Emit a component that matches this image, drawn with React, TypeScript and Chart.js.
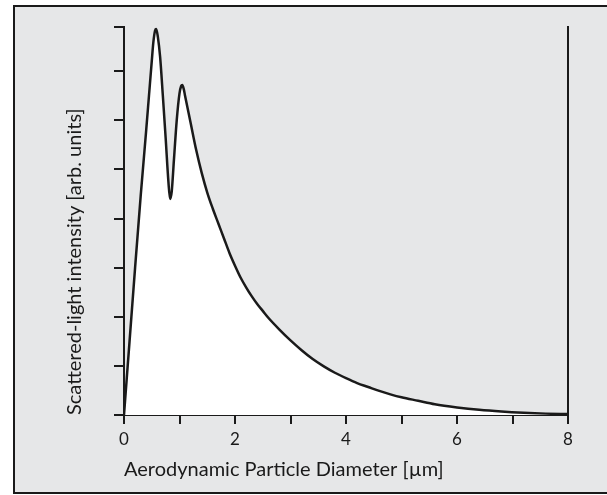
import React, { useEffect, useRef } from "react";
import { Chart, registerables } from "chart.js";

Chart.register(...registerables);

// Aerodynamic particle diameter [µm]
const diameters = [
  0, 0.1, 0.2, 0.3, 0.4, 0.45, 0.5, 0.53, 0.56, 0.58, 0.61, 0.65, 0.7, 0.75,
  0.8, 0.83, 0.86, 0.9, 0.95, 1.0, 1.03, 1.05, 1.08, 1.1, 1.2, 1.3, 1.4, 1.5,
  1.6, 1.7, 1.8, 1.9, 2.0, 2.1, 2.2, 2.3, 2.4, 2.5, 2.6, 2.8, 3.0, 3.2, 3.4,
  3.6, 3.8, 4.0, 4.2, 4.4, 4.6, 4.8, 5.0, 5.3, 5.6, 6.0, 6.4, 6.8, 7.2, 7.6,
  8.0,
];
// Scattered-light intensity [arb. units]
const intensity = [
  0, 1.5, 3.0, 4.45, 5.8, 6.5, 7.2, 7.6, 7.83, 7.86, 7.7, 7.3, 6.5, 5.65,
  4.75, 4.4, 4.55, 5.2, 6.0, 6.55, 6.7, 6.72, 6.62, 6.5, 5.95, 5.4, 4.93,
  4.53, 4.2, 3.9, 3.6, 3.3, 3.04, 2.8, 2.6, 2.42, 2.26, 2.12, 1.98, 1.74,
  1.52, 1.32, 1.14, 0.99, 0.86, 0.75, 0.65, 0.57, 0.49, 0.42, 0.36, 0.29,
  0.22, 0.155, 0.105, 0.07, 0.045, 0.028, 0.018,
];

const xTickValues = [0, 1, 2, 3, 4, 5, 6, 7, 8];
const xTickLabels = ["0", "", "2", "", "4", "", "6", "", "8"];
const yTickValues = [0, 1, 2, 3, 4, 5, 6, 7, 7.9];

const xTitle = "Aerodynamic Particle Diameter [µm]";
const yTitle = "Scattered-light intensity [arb. units]";

const FONT = "Lato, 'DejaVu Sans', sans-serif";
const INK = "#1a1a1a";
const PANEL = "#e6e7e8";

const framePlugin = {
  id: "frame",
  beforeDraw(chart: any) {
    const { ctx, width, height } = chart;
    ctx.save();
    ctx.fillStyle = "#ffffff";
    ctx.fillRect(0, 0, width, height);
    ctx.fillStyle = PANEL;
    ctx.fillRect(14, 6, width + 20, 487);
    ctx.strokeStyle = INK;
    ctx.lineWidth = 2;
    ctx.strokeRect(14, 6, width + 20, 487);
    ctx.restore();
  },
};

export default function App() {
  const ref = useRef<HTMLCanvasElement | null>(null);

  useEffect(() => {
    if (!ref.current) return;
    const chart = new Chart(ref.current, {
      type: "line",
      data: {
        datasets: [
          {
            data: diameters.map((d, i) => ({ x: d, y: intensity[i] })),
            borderColor: INK,
            borderWidth: 2.5,
            backgroundColor: "#ffffff",
            fill: "origin",
            pointRadius: 0,
            cubicInterpolationMode: "monotone",
          },
        ],
      },
      options: {
        animation: false,
        responsive: false,
        devicePixelRatio: 1,
        layout: { padding: { left: 0, top: 27, right: 39, bottom: 0 } },
        plugins: {
          legend: { display: false },
          tooltip: { enabled: false },
        },
        scales: {
          x: {
            type: "linear",
            min: 0,
            max: 8,
            afterBuildTicks: (s: any) => {
              s.ticks = xTickValues.map((v) => ({ value: v }));
            },
            afterFit: (s: any) => {
              s.height = 80;
            },
            ticks: {
              autoSkip: false,
              maxRotation: 0,
              padding: 5,
              color: INK,
              font: { family: FONT, size: 17 },
              callback: (_v: any, i: number) => xTickLabels[i],
            },
            grid: {
              drawOnChartArea: false,
              drawTicks: true,
              tickLength: 9,
              color: INK,
              lineWidth: 2,
            },
            border: { display: true, color: INK, width: 2 },
            title: {
              display: true,
              text: xTitle,
              align: "start",
              color: INK,
              font: { family: FONT, size: 20 },
              padding: { top: 0, bottom: 13 },
            },
          },
          y: {
            type: "linear",
            position: "left",
            min: 0,
            max: 7.9,
            afterBuildTicks: (s: any) => {
              s.ticks = yTickValues.map((v) => ({ value: v }));
            },
            afterFit: (s: any) => {
              s.width = 124;
            },
            ticks: { display: false },
            grid: {
              drawOnChartArea: false,
              drawTicks: true,
              tickLength: 10,
              color: INK,
              lineWidth: 2,
            },
            border: { display: true, color: INK, width: 2 },
            title: {
              display: true,
              text: yTitle,
              align: "start",
              color: INK,
              font: { family: FONT, size: 20 },
              padding: { top: 63, bottom: 0 },
            },
          },
          y2: {
            type: "linear",
            position: "right",
            min: 0,
            max: 7.9,
            afterFit: (s: any) => {
              s.width = 0;
            },
            ticks: { display: false },
            grid: { display: false, drawTicks: false },
            border: { display: true, color: INK, width: 2 },
          },
        },
      },
      plugins: [framePlugin],
    } as any);
    return () => chart.destroy();
  }, []);

  return (
    <div style={{ position: "fixed", left: 0, top: 0, width: 607, height: 495 }}>
      <canvas ref={ref} width={607} height={495} style={{ display: "block" }} />
    </div>
  );
}
